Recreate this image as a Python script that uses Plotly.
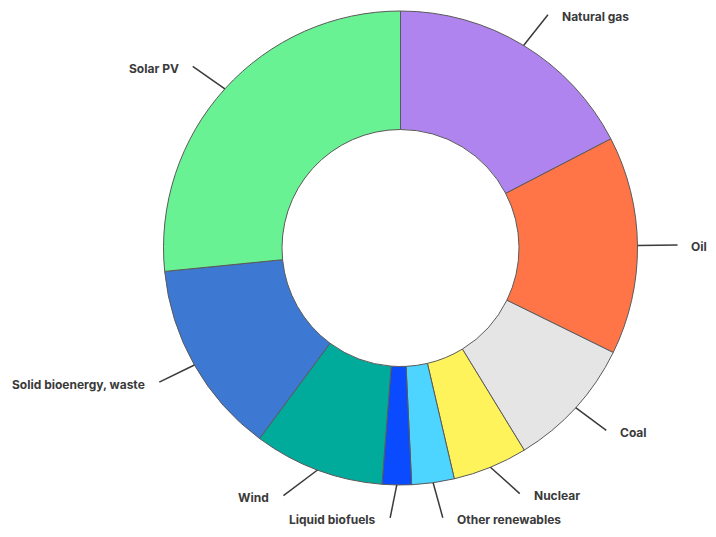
import math
import plotly.graph_objects as go

labels = ["Natural gas", "Oil", "Coal", "Nuclear", "Other renewables",
          "Liquid biofuels", "Wind", "Solid bioenergy, waste", "Solar PV"]
values = [17.4, 14.9, 9.0, 5.1, 2.9, 2.0, 8.9, 13.3, 26.6]
colors = ["#AF84EE", "#FF7548", "#E5E5E5", "#FFF35C", "#4DD4FF",
          "#0A4BFF", "#00AB9C", "#3D78D3", "#69F293"]

# leader-line layout tweaks (degrees of tilt of the line end, end radius)
tilt_deg = [1.0, 0.0, -0.8, -3.6, -1.0, 1.3, 4.8, 0.5, -1.0]
end_r = [276, 277, 275, 273, 273, 270, 274, 276, 276]

W, H = 716, 537
cx, cy, R = 400.5, 248.0, 237.0
hole = 0.50

fig = go.Figure()
fig.add_trace(go.Pie(
    labels=labels, values=values, sort=False, direction="clockwise", rotation=0,
    hole=hole, textinfo="none", hoverinfo="label+percent", showlegend=False,
    marker=dict(colors=colors, line=dict(color="#5a5a5a", width=1)),
    domain=dict(x=[(cx - R) / W, (cx + R) / W], y=[(H - cy - R) / H, (H - cy + R) / H]),
))

shapes = []
annotations = []
total = sum(values)
cum = 0.0
for lab, v, tilt, r2 in zip(labels, values, tilt_deg, end_r):
    mid = (cum + v / 2) / total * 2 * math.pi
    cum += v
    sx, sy = cx + R * math.sin(mid), cy - R * math.cos(mid)
    ang2 = mid + math.radians(tilt)
    ex, ey = cx + r2 * math.sin(ang2), cy - r2 * math.cos(ang2)
    shapes.append(dict(type="line", xref="x", yref="y", x0=sx, y0=sy, x1=ex, y1=ey,
                       line=dict(color="#3a3a3a", width=1.5)))
    right = math.sin(mid) >= 0
    annotations.append(dict(
        x=ex + (12 if right else -12), y=ey + 2, xref="x", yref="y",
        text="<b>" + lab + "</b>", showarrow=False,
        xanchor="left" if right else "right", yanchor="middle",
        font=dict(family="Inter, Lato, sans-serif", size=12, color="#3a3a3a"),
    ))

fig.update_layout(
    width=W, height=H, margin=dict(l=0, r=0, t=0, b=0),
    paper_bgcolor="white", plot_bgcolor="rgba(0,0,0,0)",
    xaxis=dict(range=[0, W], visible=False, fixedrange=True, domain=[0, 1]),
    yaxis=dict(range=[H, 0], visible=False, fixedrange=True, domain=[0, 1]),
    shapes=shapes, annotations=annotations,
)
fig.write_html("out.html")
